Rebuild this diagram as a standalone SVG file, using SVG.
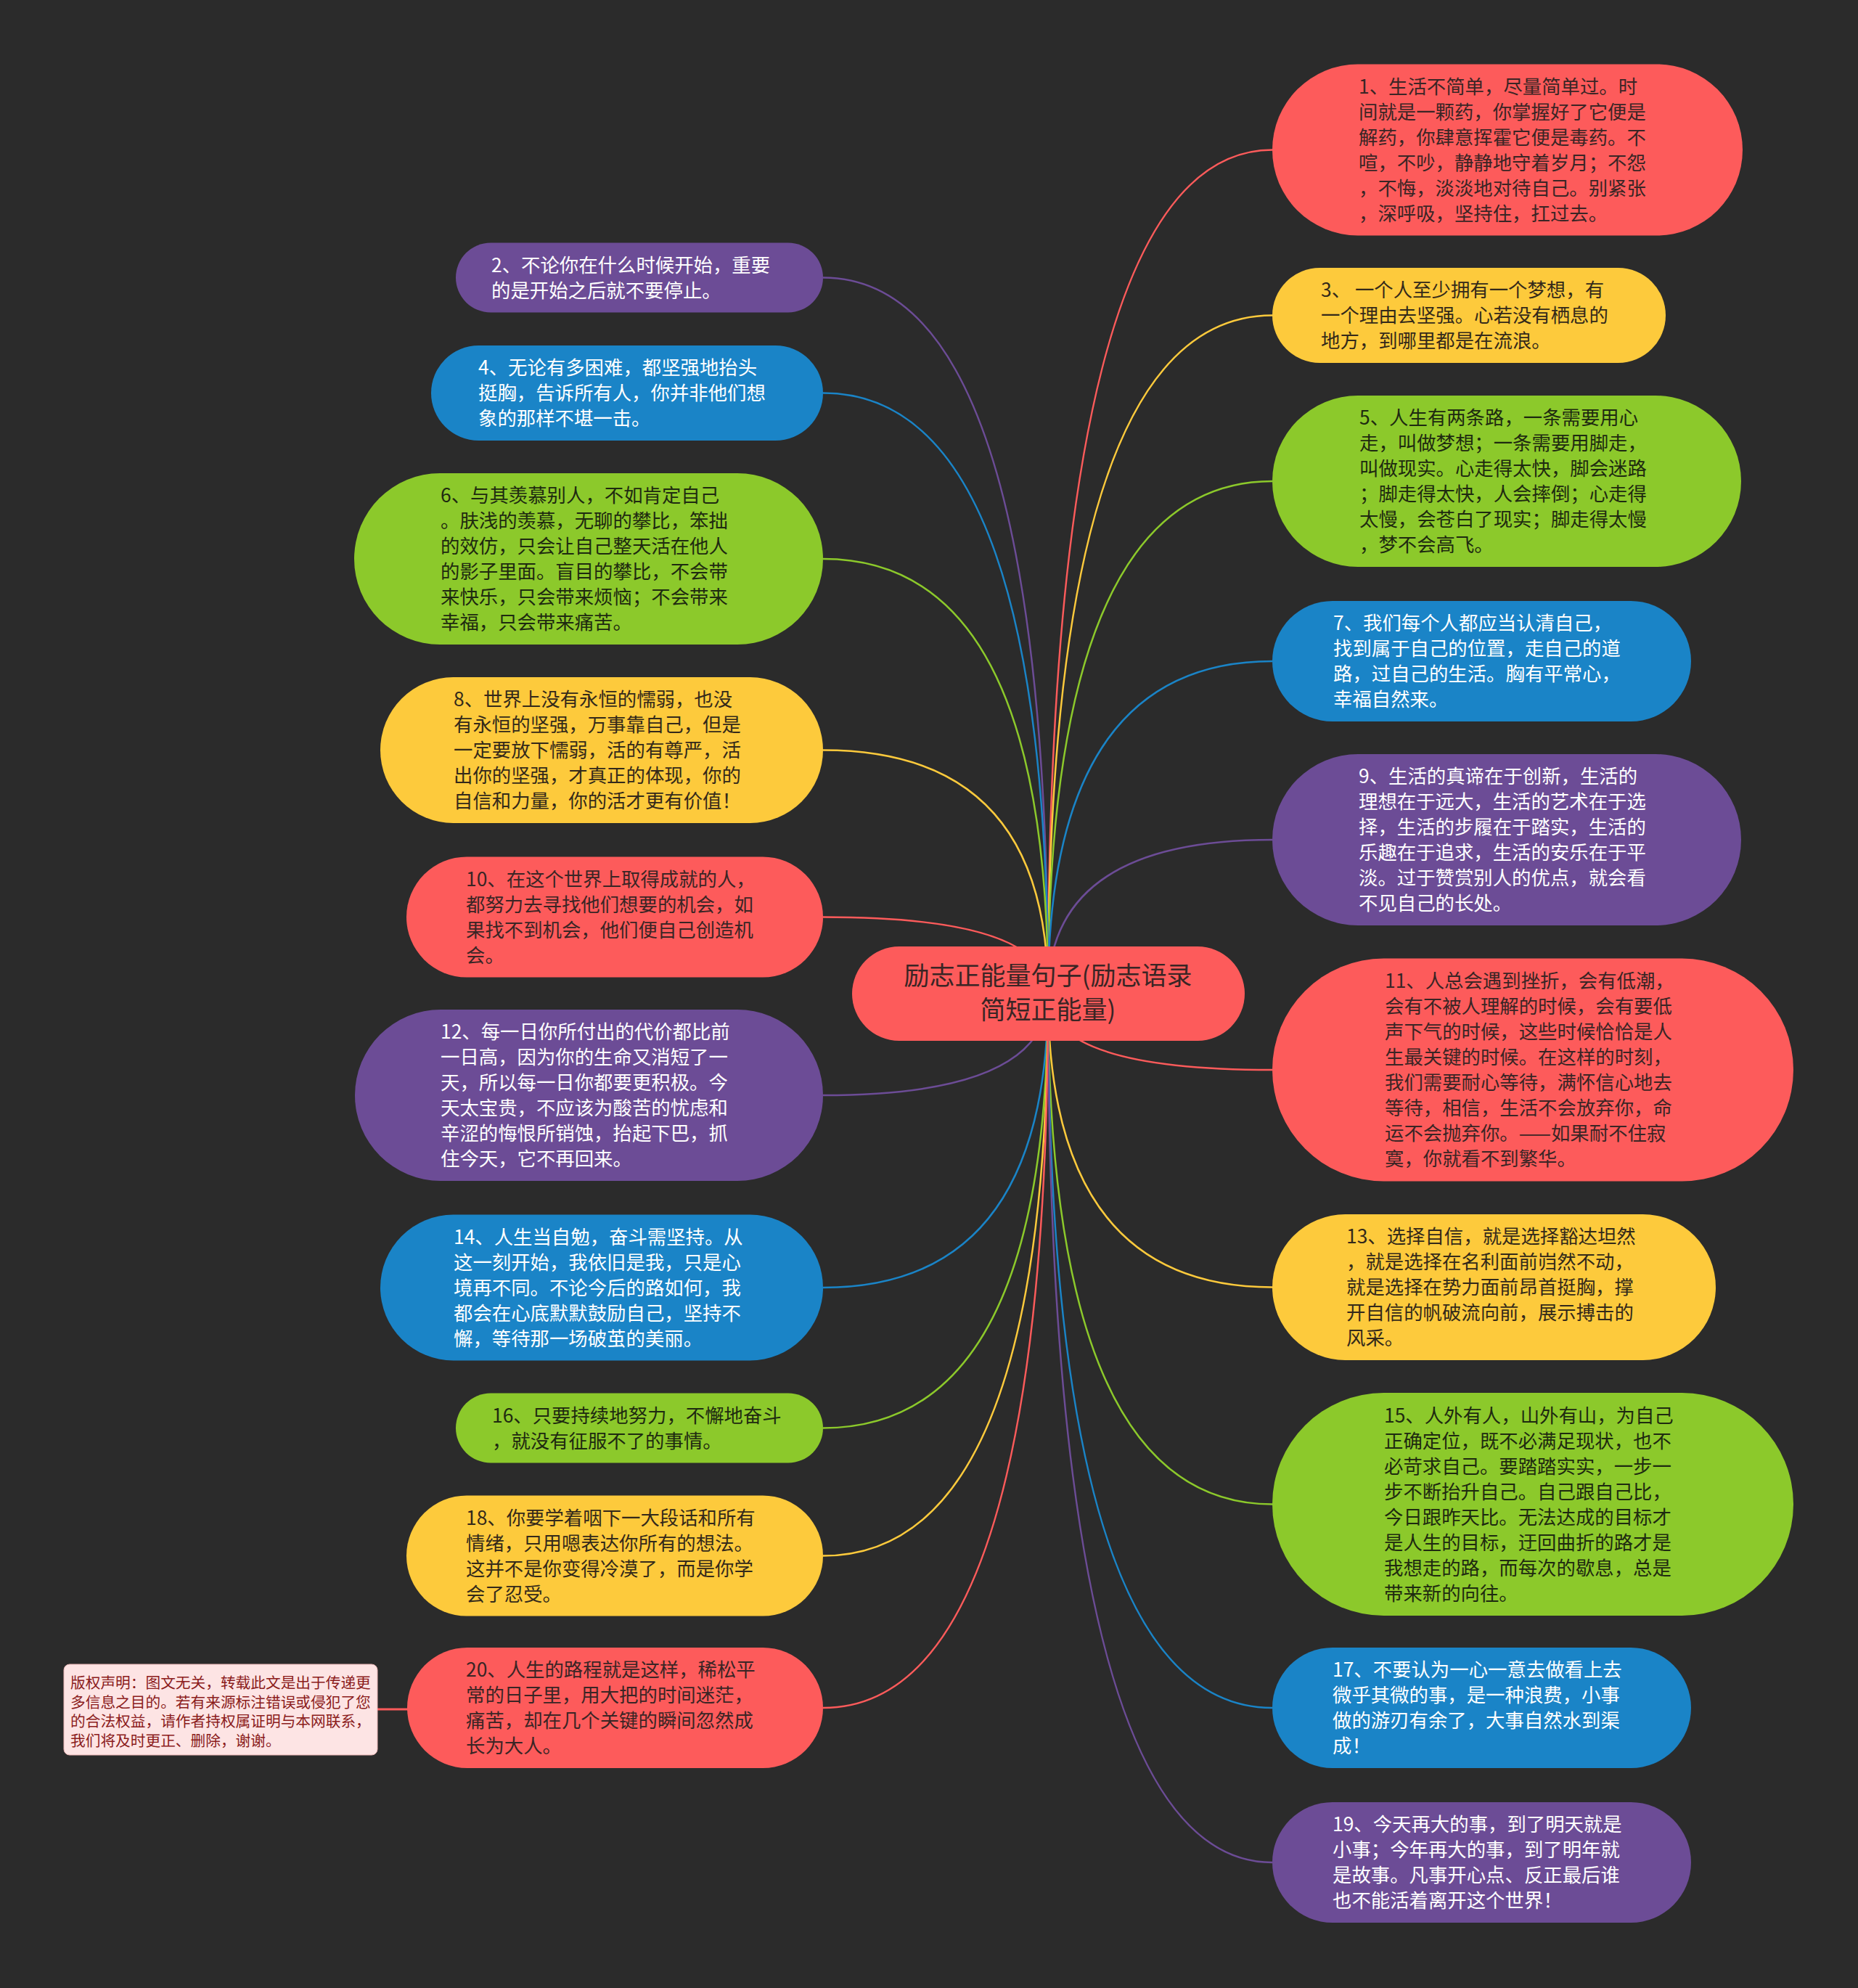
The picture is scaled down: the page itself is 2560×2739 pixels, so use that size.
<svg xmlns="http://www.w3.org/2000/svg" width="2560" height="2739" viewBox="0 0 2560 2739">
<style>
.t{font-family:"Noto Sans CJK SC","Noto Sans",sans-serif;font-size:26.4px}
.c{font-family:"Noto Sans CJK SC","Noto Sans",sans-serif;font-size:35px;fill:#3a2525}
.cp{font-family:"Noto Sans CJK SC","Noto Sans",sans-serif;font-size:20.7px;fill:#8b1c1c}
.dk{fill:#3a2525}
.dg{fill:#1e2a10}
.dy{fill:#33291a}
.wh{fill:#ffffff}
.red{fill:#fd5b5b}
.pur{fill:#6c4c96}
.blu{fill:#1a84c7}
.grn{fill:#8cc92b}
.yel{fill:#fdca3c}
.ln{fill:none;stroke-width:2.5}
</style>
<rect x="0" y="0" width="2560" height="2739" fill="#2b2b2b"/>
<g id="connectors">
<path class="ln" stroke="#fd5b5b" d="M1444 1369 Q1444 206.5 1753 206.5"/>
<path class="ln" stroke="#fdca3c" d="M1444 1369 Q1444 434.5 1753 434.5"/>
<path class="ln" stroke="#8cc92b" d="M1444 1369 Q1444 663 1753 663"/>
<path class="ln" stroke="#1a84c7" d="M1444 1369 Q1444 911 1753 911"/>
<path class="ln" stroke="#6c4c96" d="M1444 1369 Q1444 1157 1753 1157"/>
<path class="ln" stroke="#fd5b5b" d="M1444 1369 Q1444 1474 1753 1474"/>
<path class="ln" stroke="#fdca3c" d="M1444 1369 Q1444 1773.5 1753 1773.5"/>
<path class="ln" stroke="#8cc92b" d="M1444 1369 Q1444 2072.5 1753 2072.5"/>
<path class="ln" stroke="#1a84c7" d="M1444 1369 Q1444 2353 1753 2353"/>
<path class="ln" stroke="#6c4c96" d="M1444 1369 Q1444 2566 1753 2566"/>
<path class="ln" stroke="#6c4c96" d="M1444 1369 Q1444 382.5 1134 382.5"/>
<path class="ln" stroke="#1a84c7" d="M1444 1369 Q1444 541.5 1134 541.5"/>
<path class="ln" stroke="#8cc92b" d="M1444 1369 Q1444 770 1134 770"/>
<path class="ln" stroke="#fdca3c" d="M1444 1369 Q1444 1033.5 1134 1033.5"/>
<path class="ln" stroke="#fd5b5b" d="M1444 1369 Q1444 1263.5 1134 1263.5"/>
<path class="ln" stroke="#6c4c96" d="M1444 1369 Q1444 1509 1134 1509"/>
<path class="ln" stroke="#1a84c7" d="M1444 1369 Q1444 1774 1134 1774"/>
<path class="ln" stroke="#8cc92b" d="M1444 1369 Q1444 1967.5 1134 1967.5"/>
<path class="ln" stroke="#fdca3c" d="M1444 1369 Q1444 2143.5 1134 2143.5"/>
<path class="ln" stroke="#fd5b5b" d="M1444 1369 Q1444 2353 1134 2353"/>
<path fill="none" stroke="#fd5b5b" stroke-width="3" d="M520 2355 L562 2355"/>
</g>
<g id="center">
<rect class="red" x="1174" y="1304" width="541" height="130" rx="65"/>
<text class="c" text-anchor="middle"><tspan x="1444" y="1357">励志正能量句子(励志语录</tspan><tspan x="1444" y="1404">简短正能量)</tspan></text>
</g>
<g id="n1">
<rect class="red" x="1753" y="88.5" width="648" height="236" rx="118"/>
<text class="t dk"><tspan x="1872" y="128.5">1、生活不简单，尽量简单过。时</tspan><tspan x="1872" dy="35">间就是一颗药，你掌握好了它便是</tspan><tspan x="1872" dy="35">解药，你肆意挥霍它便是毒药。不</tspan><tspan x="1872" dy="35">喧，不吵，静静地守着岁月；不怨</tspan><tspan x="1872" dy="35">，不悔，淡淡地对待自己。别紧张</tspan><tspan x="1872" dy="35">，深呼吸，坚持住，扛过去。</tspan></text>
</g>
<g id="n3">
<rect class="yel" x="1753" y="369" width="542" height="131" rx="65.5"/>
<text class="t dy"><tspan x="1820" y="409">3、 一个人至少拥有一个梦想，有</tspan><tspan x="1820" dy="35">一个理由去坚强。心若没有栖息的</tspan><tspan x="1820" dy="35">地方，到哪里都是在流浪。</tspan></text>
</g>
<g id="n5">
<rect class="grn" x="1753" y="545" width="646" height="236" rx="118"/>
<text class="t dg"><tspan x="1873" y="585">5、人生有两条路，一条需要用心</tspan><tspan x="1873" dy="35">走，叫做梦想；一条需要用脚走，</tspan><tspan x="1873" dy="35">叫做现实。心走得太快，脚会迷路</tspan><tspan x="1873" dy="35">；脚走得太快，人会摔倒；心走得</tspan><tspan x="1873" dy="35">太慢，会苍白了现实；脚走得太慢</tspan><tspan x="1873" dy="35">，梦不会高飞。</tspan></text>
</g>
<g id="n7">
<rect class="blu" x="1753" y="828" width="577" height="166" rx="83"/>
<text class="t wh"><tspan x="1837" y="868">7、我们每个人都应当认清自己，</tspan><tspan x="1837" dy="35">找到属于自己的位置，走自己的道</tspan><tspan x="1837" dy="35">路，过自己的生活。胸有平常心，</tspan><tspan x="1837" dy="35">幸福自然来。</tspan></text>
</g>
<g id="n9">
<rect class="pur" x="1753" y="1039" width="646" height="236" rx="118"/>
<text class="t wh"><tspan x="1872" y="1079">9、生活的真谛在于创新，生活的</tspan><tspan x="1872" dy="35">理想在于远大，生活的艺术在于选</tspan><tspan x="1872" dy="35">择，生活的步履在于踏实，生活的</tspan><tspan x="1872" dy="35">乐趣在于追求，生活的安乐在于平</tspan><tspan x="1872" dy="35">淡。过于赞赏别人的优点，就会看</tspan><tspan x="1872" dy="35">不见自己的长处。</tspan></text>
</g>
<g id="n11">
<rect class="red" x="1753" y="1320.5" width="718" height="307" rx="153.5"/>
<text class="t dk"><tspan x="1908" y="1361">11、人总会遇到挫折，会有低潮，</tspan><tspan x="1908" dy="35">会有不被人理解的时候，会有要低</tspan><tspan x="1908" dy="35">声下气的时候，这些时候恰恰是人</tspan><tspan x="1908" dy="35">生最关键的时候。在这样的时刻，</tspan><tspan x="1908" dy="35">我们需要耐心等待，满怀信心地去</tspan><tspan x="1908" dy="35">等待，相信，生活不会放弃你，命</tspan><tspan x="1908" dy="35">运不会抛弃你。——如果耐不住寂</tspan><tspan x="1908" dy="35">寞，你就看不到繁华。</tspan></text>
</g>
<g id="n13">
<rect class="yel" x="1753" y="1673" width="611" height="201" rx="100.5"/>
<text class="t dy"><tspan x="1855" y="1713">13、选择自信，就是选择豁达坦然</tspan><tspan x="1855" dy="35">，就是选择在名利面前岿然不动，</tspan><tspan x="1855" dy="35">就是选择在势力面前昂首挺胸，撑</tspan><tspan x="1855" dy="35">开自信的帆破流向前，展示搏击的</tspan><tspan x="1855" dy="35">风采。</tspan></text>
</g>
<g id="n15">
<rect class="grn" x="1753" y="1919" width="718" height="307" rx="153.5"/>
<text class="t dg"><tspan x="1907" y="1959.5">15、人外有人，山外有山，为自己</tspan><tspan x="1907" dy="35">正确定位，既不必满足现状，也不</tspan><tspan x="1907" dy="35">必苛求自己。要踏踏实实，一步一</tspan><tspan x="1907" dy="35">步不断抬升自己。自己跟自己比，</tspan><tspan x="1907" dy="35">今日跟昨天比。无法达成的目标才</tspan><tspan x="1907" dy="35">是人生的目标，迂回曲折的路才是</tspan><tspan x="1907" dy="35">我想走的路，而每次的歇息，总是</tspan><tspan x="1907" dy="35">带来新的向往。</tspan></text>
</g>
<g id="n17">
<rect class="blu" x="1753" y="2270" width="577" height="166" rx="83"/>
<text class="t wh"><tspan x="1836" y="2310">17、不要认为一心一意去做看上去</tspan><tspan x="1836" dy="35">微乎其微的事，是一种浪费，小事</tspan><tspan x="1836" dy="35">做的游刃有余了，大事自然水到渠</tspan><tspan x="1836" dy="35">成！</tspan></text>
</g>
<g id="n19">
<rect class="pur" x="1753" y="2483" width="577" height="166" rx="83"/>
<text class="t wh"><tspan x="1836" y="2523">19、今天再大的事，到了明天就是</tspan><tspan x="1836" dy="35">小事；今年再大的事，到了明年就</tspan><tspan x="1836" dy="35">是故事。凡事开心点、反正最后谁</tspan><tspan x="1836" dy="35">也不能活着离开这个世界！</tspan></text>
</g>
<g id="n2">
<rect class="pur" x="628" y="334.5" width="506" height="96" rx="48"/>
<text class="t wh"><tspan x="677" y="374.5">2、不论你在什么时候开始，重要</tspan><tspan x="677" dy="35">的是开始之后就不要停止。</tspan></text>
</g>
<g id="n4">
<rect class="blu" x="594" y="476" width="540" height="131" rx="65.5"/>
<text class="t wh"><tspan x="659" y="516">4、无论有多困难，都坚强地抬头</tspan><tspan x="659" dy="35">挺胸，告诉所有人，你并非他们想</tspan><tspan x="659" dy="35">象的那样不堪一击。</tspan></text>
</g>
<g id="n6">
<rect class="grn" x="488" y="652" width="646" height="236" rx="118"/>
<text class="t dg"><tspan x="607" y="692">6、与其羡慕别人，不如肯定自己</tspan><tspan x="607" dy="35">。肤浅的羡慕，无聊的攀比，笨拙</tspan><tspan x="607" dy="35">的效仿，只会让自己整天活在他人</tspan><tspan x="607" dy="35">的影子里面。盲目的攀比，不会带</tspan><tspan x="607" dy="35">来快乐，只会带来烦恼；不会带来</tspan><tspan x="607" dy="35">幸福，只会带来痛苦。</tspan></text>
</g>
<g id="n8">
<rect class="yel" x="524" y="933" width="610" height="201" rx="100.5"/>
<text class="t dy"><tspan x="625" y="973">8、世界上没有永恒的懦弱，也没</tspan><tspan x="625" dy="35">有永恒的坚强，万事靠自己，但是</tspan><tspan x="625" dy="35">一定要放下懦弱，活的有尊严，活</tspan><tspan x="625" dy="35">出你的坚强，才真正的体现，你的</tspan><tspan x="625" dy="35">自信和力量，你的活才更有价值！</tspan></text>
</g>
<g id="n10">
<rect class="red" x="560" y="1180.5" width="574" height="166" rx="83"/>
<text class="t dk"><tspan x="642" y="1220.5">10、在这个世界上取得成就的人，</tspan><tspan x="642" dy="35">都努力去寻找他们想要的机会，如</tspan><tspan x="642" dy="35">果找不到机会，他们便自己创造机</tspan><tspan x="642" dy="35">会。</tspan></text>
</g>
<g id="n12">
<rect class="pur" x="489" y="1391" width="645" height="236" rx="118"/>
<text class="t wh"><tspan x="607" y="1431">12、每一日你所付出的代价都比前</tspan><tspan x="607" dy="35">一日高，因为你的生命又消短了一</tspan><tspan x="607" dy="35">天，所以每一日你都要更积极。今</tspan><tspan x="607" dy="35">天太宝贵，不应该为酸苦的忧虑和</tspan><tspan x="607" dy="35">辛涩的悔恨所销蚀，抬起下巴，抓</tspan><tspan x="607" dy="35">住今天，它不再回来。</tspan></text>
</g>
<g id="n14">
<rect class="blu" x="524" y="1673.5" width="610" height="201" rx="100.5"/>
<text class="t wh"><tspan x="625" y="1713.5">14、人生当自勉，奋斗需坚持。从</tspan><tspan x="625" dy="35">这一刻开始，我依旧是我，只是心</tspan><tspan x="625" dy="35">境再不同。不论今后的路如何，我</tspan><tspan x="625" dy="35">都会在心底默默鼓励自己，坚持不</tspan><tspan x="625" dy="35">懈，等待那一场破茧的美丽。</tspan></text>
</g>
<g id="n16">
<rect class="grn" x="628" y="1919.5" width="506" height="96" rx="48"/>
<text class="t dg"><tspan x="678" y="1959.5">16、只要持续地努力，不懈地奋斗</tspan><tspan x="678" dy="35">，就没有征服不了的事情。</tspan></text>
</g>
<g id="n18">
<rect class="yel" x="560" y="2060.5" width="574" height="166" rx="83"/>
<text class="t dy"><tspan x="642" y="2100.5">18、你要学着咽下一大段话和所有</tspan><tspan x="642" dy="35">情绪，只用嗯表达你所有的想法。</tspan><tspan x="642" dy="35">这并不是你变得冷漠了，而是你学</tspan><tspan x="642" dy="35">会了忍受。</tspan></text>
</g>
<g id="n20">
<rect class="red" x="561" y="2270" width="573" height="166" rx="83"/>
<text class="t dk"><tspan x="642" y="2310">20、人生的路程就是这样，稀松平</tspan><tspan x="642" dy="35">常的日子里，用大把的时间迷茫，</tspan><tspan x="642" dy="35">痛苦，却在几个关键的瞬间忽然成</tspan><tspan x="642" dy="35">长为大人。</tspan></text>
</g>
<g id="copyright">
<rect x="88" y="2293" width="432" height="125" rx="8" fill="#fde4e4" stroke="#e8b4b4" stroke-width="1"/>
<text class="cp"><tspan x="97" y="2326">版权声明：图文无关，转载此文是出于传递更</tspan><tspan x="97" dy="26.5">多信息之目的。若有来源标注错误或侵犯了您</tspan><tspan x="97" dy="26.5">的合法权益，请作者持权属证明与本网联系，</tspan><tspan x="97" dy="26.5">我们将及时更正、删除，谢谢。</tspan></text>
</g>
</svg>
